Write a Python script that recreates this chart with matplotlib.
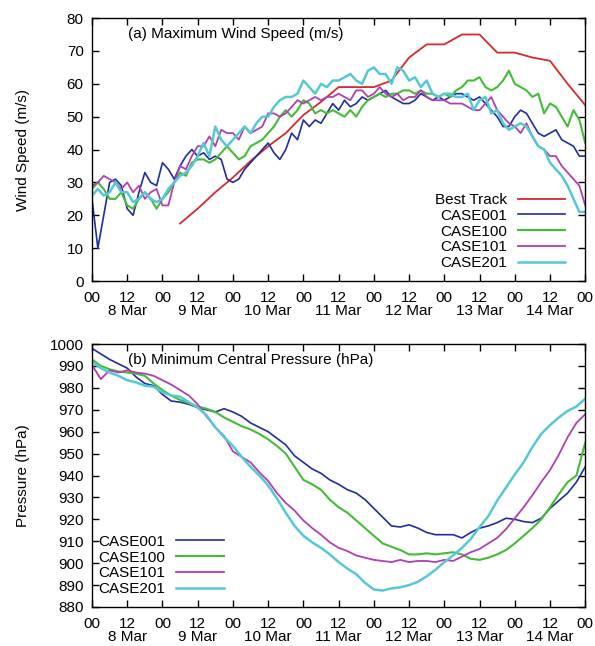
import numpy as np
import matplotlib
matplotlib.use("Agg")
import matplotlib.pyplot as plt

plt.rcParams['font.family'] = ['Liberation Sans', 'DejaVu Sans']

# hours since 00 UTC 8 Mar
hours_wind = np.arange(0, 169, 2)
hours_pres = np.arange(0, 169, 3)

best_hours = [30, 36, 42, 48, 54, 60, 66, 72, 78, 84, 90, 96, 102, 108, 114,
              120, 126, 132, 138, 144, 150, 156, 162, 168]
best_track = [17.5, 22, 27, 31.5, 36.5, 41, 45, 50.5, 54.5, 59, 59, 59, 61, 68, 72,
              72, 75, 75, 69.5, 69.5, 68, 67, 60, 53.5]

# max wind speed (m/s), every 2 h
wind_001 = [25, 10, 20, 30, 31, 29, 22, 20, 27, 33, 30, 29,
            36, 34, 31, 35, 38, 40, 38, 39, 37, 38, 37, 31,
            30, 31, 34, 36, 38, 40, 42, 39, 37, 40, 45, 43,
            49, 47, 49, 48, 51, 54, 52, 55, 53, 54, 56, 55,
            56, 57, 58, 56, 55, 54, 54, 55, 57, 56, 55, 56,
            55, 56, 57, 57, 56, 55, 56, 54, 52, 50, 47, 47,
            50, 52, 51, 48, 45, 44, 45, 46, 43, 42, 41, 38,
            38]
wind_100 = [28, 30, 28, 25, 25, 27, 23, 22, 25, 27, 25, 22,
            25, 27, 30, 33, 32, 36, 37, 37, 36, 37, 39, 41,
            39, 37, 38, 41, 42, 43, 45, 47, 50, 52, 50, 52,
            55, 54, 51, 52, 51, 52, 51, 50, 52, 50, 53, 55,
            56, 57, 56, 57, 57, 58, 58, 57, 58, 57, 57, 56,
            57, 56, 58, 59, 61, 61, 62, 59, 58, 59, 61, 64,
            60, 59, 58, 56, 57, 51, 54, 53, 50, 47, 52, 49,
            42]
wind_101 = [29, 30, 32, 31, 30, 28, 30, 27, 29, 25, 27, 28,
            23, 23, 30, 35, 34, 38, 41, 41, 44, 41, 46, 45,
            45, 43, 47, 45, 46, 47, 51, 51, 50, 51, 53, 55,
            54, 55, 56, 55, 56, 56, 57, 56, 55, 58, 58, 56,
            57, 59, 57, 56, 57, 55, 56, 56, 58, 56, 55, 55,
            55, 54, 54, 54, 53, 52, 52, 54, 56, 52, 50, 48,
            47, 45, 48, 44, 41, 40, 38, 38, 35, 33, 31, 29,
            23]
wind_201 = [26, 28, 26, 27, 30, 27, 27, 24, 25, 27, 25, 24,
            25, 28, 30, 32, 33, 35, 38, 42, 38, 47, 43, 41,
            43, 45, 47, 45, 48, 50, 50, 53, 55, 56, 56, 57,
            61, 59, 57, 60, 59, 61, 61, 62, 63, 61, 60, 64,
            65, 63, 63, 60, 65, 64, 61, 62, 59, 61, 57, 56,
            57, 57, 56, 56, 57, 52, 55, 56, 51, 52, 48, 46,
            47, 48, 47, 44, 41, 40, 36, 34, 32, 29, 25, 21,
            21]

# minimum central pressure (hPa), every 3 h
pres_001 = [998, 995.5, 993, 991, 989, 985, 982, 981,
            977, 974, 973.5, 972.5, 971, 970, 969, 970.5,
            969, 967, 964, 962, 960, 957, 954, 949,
            946, 943, 941, 938, 936, 933.5, 932, 929,
            925, 921, 917, 916.5, 917.5, 916, 914, 913,
            913, 913, 911.5, 914, 916, 917, 918.5, 920.5,
            920, 919, 918.5, 920.5, 925, 928.5, 932, 937,
            944]
pres_100 = [993, 990, 988.5, 987.5, 987, 986.5, 985.5, 982,
            979, 976.5, 974.5, 973, 971.5, 970.5, 969, 966.5,
            964.5, 962.5, 961, 959, 956.5, 953.5, 950, 944,
            938, 936, 933.5, 929, 925.5, 923, 919.5, 916,
            912.5, 909, 907.5, 906, 904, 904, 904.5, 904,
            904.5, 905, 904, 902, 901.5, 902.5, 904, 906,
            909, 912.5, 916, 920, 925.5, 931.5, 937, 940,
            955]
pres_101 = [990.5, 984, 988, 987, 988, 987, 986.5, 985.5,
            983.5, 981.5, 979, 976.5, 972.5, 967, 962, 958,
            951, 948.5, 946, 941.5, 937.5, 932, 927.5, 924,
            919.5, 916, 913, 909.5, 907, 905.5, 903.5, 902.5,
            901.5, 901, 900.5, 901.5, 900.5, 901, 901, 900.5,
            901.5, 901, 903, 905, 906.5, 909, 911.5, 915.5,
            920.5, 925.5, 931, 937, 942.5, 949.5, 957.5, 964,
            968]
pres_201 = [992, 989, 987, 985.5, 983.5, 982.5, 981, 980.5,
            978, 976.5, 976, 973.5, 971, 967.5, 962, 957.5,
            953.5, 948.5, 944, 940, 935.5, 929.5, 923, 917,
            912.5, 909.5, 907, 904, 900.5, 897.5, 895, 891,
            888, 887.5, 888.5, 889, 890, 891.5, 894, 897,
            900.5, 903.5, 907, 911, 916.5, 921.5, 928.5, 934.5,
            940.5, 946, 953, 959, 963, 966.5, 969.5, 971.5,
            975]

c_best = '#d42a2a'
c001 = '#1f2e9c'
c100 = '#45bb38'
c101 = '#b040b0'
c201 = '#55c8d8'

xticks = np.arange(0, 169, 12)
xlabels = ['00' if h % 24 == 0 else '12\n%d Mar' % (8 + h // 24) for h in xticks]

fig = plt.figure(figsize=(5.95, 6.46), dpi=100)
ax1 = fig.add_axes([0.1546, 0.565, 0.829, 0.407])
ax2 = fig.add_axes([0.1546, 0.0604, 0.829, 0.407])

ax1.plot(best_hours, best_track, color=c_best, lw=1.3, label='Best Track')
ax1.plot(hours_wind, wind_001, color=c001, lw=1.2, label='CASE001')
ax1.plot(hours_wind, wind_100, color=c100, lw=1.5, label='CASE100')
ax1.plot(hours_wind, wind_101, color=c101, lw=1.3, label='CASE101')
ax1.plot(hours_wind, wind_201, color=c201, lw=1.8, label='CASE201')
ax1.set_ylim(0, 80)
ax1.set_yticks(np.arange(0, 81, 10))
ax1.set_ylabel('Wind Speed (m/s)', fontsize=11)
ax1.text(0.073, 0.94, '(a) Maximum Wind Speed (m/s)', transform=ax1.transAxes,
         fontsize=11, ha='left', va='center')
ax1.legend(loc='lower right', bbox_to_anchor=(0.981, 0.0), frameon=False,
           markerfirst=False, fontsize=11, handlelength=3.1, handletextpad=0.7,
           labelspacing=0.12, borderaxespad=0.3)

ax2.plot(hours_pres, pres_001, color=c001, lw=1.2, label='CASE001')
ax2.plot(hours_pres, pres_100, color=c100, lw=1.5, label='CASE100')
ax2.plot(hours_pres, pres_101, color=c101, lw=1.3, label='CASE101')
ax2.plot(hours_pres, pres_201, color=c201, lw=1.8, label='CASE201')
ax2.set_ylim(880, 1000)
ax2.set_yticks(np.arange(880, 1001, 10))
ax2.set_ylabel('Pressure (hPa)', fontsize=11)
ax2.text(0.073, 0.94, '(b) Minimum Central Pressure (hPa)', transform=ax2.transAxes,
         fontsize=11, ha='left', va='center')
ax2.legend(loc='lower left', bbox_to_anchor=(-0.008, 0.0), frameon=False,
           markerfirst=False, fontsize=11, handlelength=3.1, handletextpad=0.7,
           labelspacing=0.12, borderaxespad=0.3)

for ax in (ax1, ax2):
    ax.set_xlim(0, 168)
    ax.set_xticks(xticks)
    ax.set_xticklabels(xlabels)
    for t in ax.get_xticklabels():
        t.set_linespacing(0.95)
    ax.tick_params(direction='in', top=True, right=True, length=5, width=1,
                   labelsize=11)
    ax.tick_params(axis='y', pad=6)
    ax.tick_params(axis='x', pad=7)
    ax.yaxis.set_label_coords(-0.125, 0.5)
    for s in ax.spines.values():
        s.set_linewidth(1.0)

fig.savefig('out.png', dpi=100)
